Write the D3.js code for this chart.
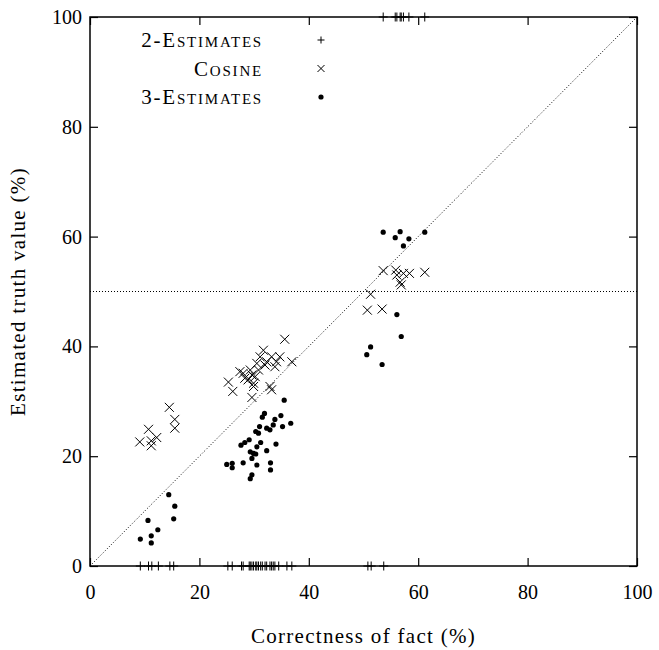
<!DOCTYPE html>
<html>
<head>
<meta charset="utf-8">
<script src="https://cdn.jsdelivr.net/npm/d3@7"></script>
<style>
  body { margin: 0; background: #fff; }
  svg text { font-family: "Liberation Serif", "DejaVu Serif", serif; fill: #000; }
</style>
</head>
<body>
<svg id="plot"></svg>
<script>
// series: [correctness of fact, estimated truth value]
const twoEstimates = [
  [9.2, 0], [10.7, 0], [11.3, 0], [12.5, 0], [14.6, 0], [15.3, 0],
  [25.2, 0], [26.0, 0], [27.7, 0], [28.0, 0], [29.1, 0], [29.3, 0], [29.6, 0],
  [29.9, 0], [30.3, 0], [30.5, 0], [30.8, 0], [31.2, 0], [31.5, 0], [32.0, 0],
  [32.3, 0], [32.9, 0], [33.2, 0], [33.5, 0], [33.8, 0], [34.5, 0], [36.0, 0],
  [36.9, 0], [50.8, 0], [51.4, 0], [53.7, 0],
  [53.6, 100], [55.8, 100], [56.1, 100], [56.7, 100], [56.9, 100], [57.3, 100],
  [58.3, 100], [61.2, 100]
];
const cosine = [
  [14.5, 28.9], [10.7, 24.9], [9.1, 22.6], [11.2, 22.8], [12.2, 23.4], [11.2, 21.9],
  [15.5, 26.7], [15.5, 25.1],
  [35.6, 41.3], [36.9, 37.2], [25.3, 33.5], [26.1, 31.8], [27.4, 35.4], [28.3, 34.2],
  [29.6, 30.7], [29.9, 32.7], [31.7, 39.3], [31.1, 38.1], [32.3, 37.2], [33.2, 38.1],
  [34.7, 38.1], [33.8, 36.3], [32.9, 32.7], [33.2, 32.1], [30.5, 36.9], [29.3, 35.7],
  [30.2, 34.5], [28.9, 33.9], [30.8, 35.7], [29.6, 34.8], [32.0, 36.6], [28.0, 35.1],
  [34.1, 37.2], [29.9, 33.3],
  [53.6, 53.8], [55.9, 53.9], [56.1, 53.0], [57.3, 53.3], [58.4, 53.3], [61.2, 53.5],
  [56.7, 51.7], [56.9, 51.2], [51.3, 49.5], [50.7, 46.6], [53.4, 46.8]
];
const threeEstimates = [
  [14.4, 13.0], [15.5, 10.9], [15.3, 8.6], [10.6, 8.3], [12.4, 6.6], [11.2, 5.5],
  [9.2, 4.9], [11.2, 4.2],
  [35.5, 30.2], [31.9, 27.8], [31.5, 27.1], [34.9, 27.4], [36.7, 26.0], [35.2, 25.4],
  [33.8, 26.7], [33.5, 25.7], [32.9, 24.8], [32.3, 25.1], [31.0, 25.4], [30.3, 24.5],
  [30.8, 24.2], [34.0, 22.2], [31.2, 22.5], [29.1, 23.0], [28.3, 22.5], [27.6, 22.0],
  [30.5, 21.7], [32.3, 21.0], [29.3, 20.8], [29.9, 20.5], [29.6, 19.6], [30.3, 20.4],
  [30.5, 18.4], [28.0, 18.8], [26.0, 18.7], [26.0, 17.9], [33.0, 18.8], [33.0, 17.5],
  [29.6, 16.6], [29.3, 15.9], [25.0, 18.5],
  [53.6, 60.8], [56.7, 60.9], [55.8, 59.8], [58.3, 59.6], [57.3, 58.3], [61.2, 60.8],
  [56.1, 45.8], [56.9, 41.8], [51.3, 39.9], [50.6, 38.5], [53.4, 36.7]
];
const tickValues = [0, 20, 40, 60, 80, 100];
const legendLabels = ["2-Estimates", "Cosine", "3-Estimates"];

const W = 659, H = 650;
const svg = d3.select("#plot").attr("width", W).attr("height", H);

const x = d3.scaleLinear().domain([0, 100]).range([90, 637]);
const y = d3.scaleLinear().domain([0, 100]).range([566, 17]);

// axes (ticks point inward, mirrored on top and right)
const axisStyle = g => {
  g.select(".domain").remove();
  g.selectAll(".tick line").attr("stroke", "#000").attr("stroke-width", 1.2);
  g.selectAll(".tick text").style("font-size", "20px");
};
svg.append("g").attr("transform", `translate(0,${y(0)})`)
  .call(d3.axisBottom(x).tickValues(tickValues).tickSize(-8).tickPadding(19))
  .call(axisStyle);
svg.append("g").attr("transform", `translate(0,${y(100)})`)
  .call(d3.axisTop(x).tickValues(tickValues).tickSize(-8).tickFormat(""))
  .call(axisStyle);
svg.append("g").attr("transform", `translate(${x(0)},0)`)
  .call(d3.axisLeft(y).tickValues(tickValues).tickSize(-8).tickPadding(8))
  .call(axisStyle);
svg.append("g").attr("transform", `translate(${x(100)},0)`)
  .call(d3.axisRight(y).tickValues(tickValues).tickSize(-8).tickFormat(""))
  .call(axisStyle);

// reference lines
svg.append("line")
  .attr("x1", x(0)).attr("y1", y(0)).attr("x2", x(100)).attr("y2", y(100))
  .attr("stroke", "#000").attr("stroke-width", 1).attr("stroke-dasharray", "1,2");
svg.append("line")
  .attr("x1", x(0)).attr("y1", y(50)).attr("x2", x(100)).attr("y2", y(50))
  .attr("stroke", "#000").attr("stroke-width", 1).attr("stroke-dasharray", "1,2");

// frame
svg.append("rect")
  .attr("x", x(0)).attr("y", y(100))
  .attr("width", x(100) - x(0)).attr("height", y(0) - y(100))
  .attr("fill", "none").attr("stroke", "#000").attr("stroke-width", 1.5);

// markers
const plusPath = (cx, cy, s) => `M${cx - s},${cy}H${cx + s}M${cx},${cy - s}V${cy + s}`;
const crossPath = (cx, cy, s) => `M${cx - s},${cy - s}L${cx + s},${cy + s}M${cx - s},${cy + s}L${cx + s},${cy - s}`;

svg.append("g").selectAll("path")
  .data(twoEstimates).enter().append("path")
  .attr("d", d => plusPath(x(d[0]), y(d[1]), 4.5))
  .attr("stroke", "#000").attr("stroke-width", 1).attr("fill", "none");

svg.append("g").selectAll("path")
  .data(cosine).enter().append("path")
  .attr("d", d => crossPath(x(d[0]), y(d[1]), 4.5))
  .attr("stroke", "#000").attr("stroke-width", 1).attr("fill", "none");

svg.append("g").selectAll("circle")
  .data(threeEstimates).enter().append("circle")
  .attr("cx", d => x(d[0])).attr("cy", d => y(d[1]))
  .attr("r", 2.6).attr("fill", "#000");

// legend
const legend = svg.append("g");
legendLabels.forEach((label, i) => {
  const ly = 40 + i * 28.5;
  legend.append("text")
    .attr("x", 263).attr("y", ly).attr("dy", "0.35em")
    .attr("text-anchor", "end")
    .style("font-size", "21px").style("font-variant", "small-caps")
    .style("letter-spacing", "1.8px")
    .text(label);
  let mark;
  if (i === 0) mark = legend.append("path").attr("d", plusPath(321, ly, 3.5));
  else if (i === 1) mark = legend.append("path").attr("d", crossPath(321, ly, 3.5));
  if (mark) mark.attr("stroke", "#000").attr("stroke-width", 1).attr("fill", "none");
  if (i === 2) legend.append("circle").attr("cx", 321).attr("cy", ly).attr("r", 2.6).attr("fill", "#000");
});

// axis titles
svg.append("text")
  .attr("x", (x(0) + x(100)) / 2).attr("y", 643)
  .attr("text-anchor", "middle").style("font-size", "21px")
  .style("letter-spacing", "1.3px")
  .text("Correctness of fact (%)");
svg.append("text")
  .attr("transform", `translate(25,${(y(0) + y(100)) / 2}) rotate(-90)`)
  .attr("text-anchor", "middle").style("font-size", "21px")
  .style("letter-spacing", "1.3px")
  .text("Estimated truth value (%)");
</script>
</body>
</html>
